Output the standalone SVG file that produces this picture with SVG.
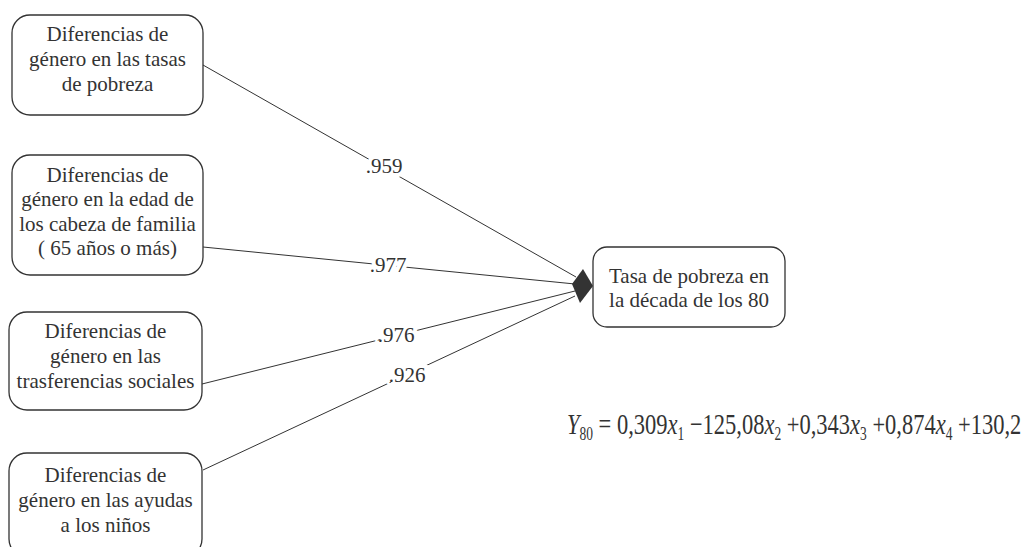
<svg xmlns="http://www.w3.org/2000/svg" width="1032" height="547" viewBox="0 0 1032 547">
<style>
text{font-family:"Liberation Serif","Times New Roman",serif;fill:#333;}
.box{fill:#fff;stroke:#333;stroke-width:1.3;}
.t{font-size:21px;text-anchor:middle;}
.lbl{font-size:21px;text-anchor:middle;stroke:#fff;stroke-width:8;paint-order:stroke;}
.ln{stroke:#333;stroke-width:1;fill:none;}
.eq{font-size:30px;}
.i{font-style:italic;}
.s{font-size:18px;}
</style>
<rect width="1032" height="547" fill="#fff"/>
<g id="connectors">
<line class="ln" x1="203" y1="65" x2="576" y2="277"/>
<line class="ln" x1="203" y1="247" x2="575" y2="284"/>
<line class="ln" x1="202" y1="384" x2="575" y2="291"/>
<line class="ln" x1="203" y1="470" x2="575" y2="296"/>
<polygon points="572,284 583,269 593,286 580,303" fill="#333"/>
<text class="lbl" x="384" y="173">.959</text>
<text class="lbl" x="388" y="272">.977</text>
<text class="lbl" x="396" y="342">.976</text>
<text class="lbl" x="407" y="382">.926</text>
</g>
<g id="n1">
<rect class="box" x="12" y="15" width="191" height="100" rx="18"/>
<text class="t" x="107.5" y="41">Diferencias de</text>
<text class="t" x="107.5" y="66">género en las tasas</text>
<text class="t" x="107.5" y="91">de pobreza</text>
</g>
<g id="n2">
<rect class="box" x="12" y="155" width="191" height="120" rx="18"/>
<text class="t" x="107.5" y="182">Diferencias de</text>
<text class="t" x="107.5" y="206">género en la edad de</text>
<text class="t" x="107.5" y="231">los cabeza de familia</text>
<text class="t" x="107.5" y="255">( 65 años o más)</text>
</g>
<g id="n3">
<rect class="box" x="9" y="312" width="193" height="98" rx="18"/>
<text class="t" x="105.5" y="338">Diferencias de</text>
<text class="t" x="105.5" y="363">género en las</text>
<text class="t" x="105.5" y="388">trasferencias sociales</text>
</g>
<g id="n4">
<rect class="box" x="9" y="453" width="193" height="104" rx="18"/>
<text class="t" x="105.5" y="482">Diferencias de</text>
<text class="t" x="105.5" y="507">género en las ayudas</text>
<text class="t" x="105.5" y="532">a los niños</text>
</g>
<g id="target">
<rect class="box" x="593" y="247" width="192" height="80" rx="14"/>
<text class="t" x="689" y="283">Tasa de pobreza en</text>
<text class="t" x="689" y="307">la década de los 80</text>
</g>
<g id="equation" transform="translate(567,434) scale(0.75,1)">
<text class="eq" x="0" y="0"><tspan class="i">Y</tspan><tspan class="s" dy="6">80</tspan><tspan dy="-6"> = 0,309</tspan><tspan class="i">x</tspan><tspan class="s" dy="6">1</tspan><tspan dy="-6"> −125,08</tspan><tspan class="i">x</tspan><tspan class="s" dy="6">2</tspan><tspan dy="-6"> +0,343</tspan><tspan class="i">x</tspan><tspan class="s" dy="6">3</tspan><tspan dy="-6"> +0,874</tspan><tspan class="i">x</tspan><tspan class="s" dy="6">4</tspan><tspan dy="-6"> +130,2</tspan></text>
</g>
</svg>
